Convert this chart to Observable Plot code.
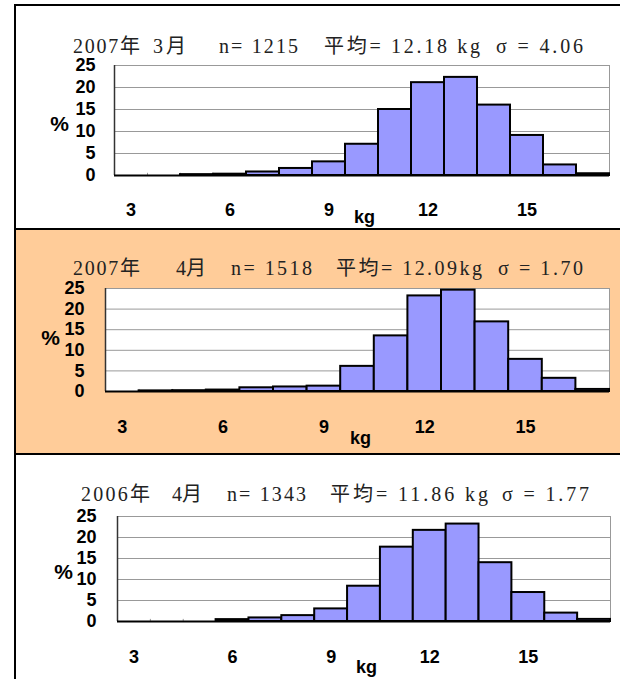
<!DOCTYPE html>
<html><head><meta charset="utf-8">
<script src="https://cdn.jsdelivr.net/npm/d3@7"></script>
<script src="https://cdn.jsdelivr.net/npm/@observablehq/plot@0.6"></script>
<style>
body{margin:0;background:#fff;}
#wrap{position:relative;width:620px;height:679px;overflow:hidden;background:#fff;}
.panel{position:absolute;left:14px;width:640px;border-left:2px solid #000;border-top:2px solid #000;box-sizing:border-box;}
.chart{position:absolute;left:0;}
</style></head><body><div id="wrap"></div>
<script>
// weight classes (kg), one bar per class
const bins = [3, 4, 5, 6, 7, 8, 9, 10, 11, 12, 13, 14, 15, 16, 17];
// percentage of animals in each class
const mar2007 = [0, 0, 0.2, 0.3, 0.8, 1.6, 3.1, 7.1, 15.0, 21.1, 22.3, 16.0, 9.1, 2.4, 0.4];
const apr2007 = [0, 0.15, 0.2, 0.35, 0.9, 1.1, 1.3, 6.1, 13.5, 23.2, 24.6, 16.9, 7.8, 3.2, 0.5];
const apr2006 = [0, 0, 0, 0.45, 0.85, 1.4, 3.0, 8.4, 17.7, 21.7, 23.2, 14.0, 6.9, 2.0, 0.5];
// title of each panel, in its parts
const titles1 = ["2007年", "3月", "n= 1215", "平均= 12.18 kg", "σ = 4.06"];
const titles2 = ["2007年", "4月", "n= 1518", "平均= 12.09kg", "σ = 1.70"];
const titles3 = ["2006年", "4月", "n= 1343", "平均= 11.86 kg", "σ = 1.77"];
const xTicks = [3, 6, 9, 12, 15];
const yTicks = [0, 5, 10, 15, 20, 25];
const gridTicks = [5, 10, 15, 20];
const xLabel = "kg";
const yLabel = "%";

const wrap = document.getElementById("wrap");

const panels = [
  {top: 4, height: 224, bg: "#fff"},
  {top: 228, height: 225, bg: "#FFCC99"},
  {top: 453, height: 240, bg: "#fff"}
];
panels.forEach(p => {
  const d = document.createElement("div");
  d.className = "panel";
  d.style.top = p.top + "px";
  d.style.height = p.height + "px";
  d.style.background = p.bg;
  wrap.appendChild(d);
});

const layouts = [
  {series: mar2007, title: titles1, top: 0, height: 228, ml: 114, mr: 11, mt: 65, mb: 53, ypad: 19, xdy: 35, kgdx: 2.5, kgdy: 42, px: 59, py: 124, ty: 53,
   seg: [[73, 140], [153, 186], [219, 298], [324, 480], [496, 583]]},
  {series: apr2007, title: titles2, top: 228, height: 225, ml: 105, mr: 11, mt: 60, mb: 62, ypad: 21, xdy: 36, kgdx: 3, kgdy: 47, px: 50, py: 338, ty: 275,
   seg: [[73, 140], [176, 206], [231, 312], [336, 482], [498, 583]]},
  {series: apr2006, title: titles3, top: 453, height: 226, ml: 117, mr: 10, mt: 63, mb: 58, ypad: 21, xdy: 36, kgdx: 2.5, kgdy: 46, px: 63, py: 572, ty: 501,
   seg: [[81, 150], [172, 202], [227, 306], [330, 488], [502, 589]]}
];

layouts.forEach((L, i) => {
  const data = bins.map((b, j) => ({bin: b, v: L.series[j]}));
  const edges = bins.slice(1).map(b => b - 0.5);
  const svg = Plot.plot({
    width: 620,
    height: L.height,
    marginLeft: L.ml, marginRight: L.mr, marginTop: L.mt, marginBottom: L.mb,
    style: {background: "transparent", fontFamily: "'Liberation Sans', Arial, sans-serif", fontSize: "18px", fontWeight: "bold", color: "#000"},
    x: {domain: [2.5, 17.5], axis: null},
    y: {domain: [0, 25], axis: null},
    marks: [
      Plot.frame({fill: "#fff", stroke: "#999"}),
      Plot.ruleY(gridTicks, {stroke: "#999", strokeWidth: 1}),
      Plot.ruleX(edges, {y1: 0, y2: 0.5, stroke: "#999"}),
      Plot.ruleX([2.5], {stroke: "#333", strokeWidth: 1.5}),
      Plot.rectY(data, {x1: d => d.bin - 0.5, x2: d => d.bin + 0.5, y: "v", fill: "#9999FF", stroke: "#000", strokeWidth: 2}),
      Plot.ruleY([0], {stroke: "#000", strokeWidth: 2}),
      Plot.text(yTicks, {y: d => d, frameAnchor: "left", dx: -L.ypad, textAnchor: "end", lineAnchor: "middle"}),
      Plot.text(xTicks, {x: d => d, frameAnchor: "bottom", dy: L.xdy, lineAnchor: "middle"}),
      Plot.text([xLabel], {frameAnchor: "bottom", dx: L.kgdx, dy: L.kgdy, lineAnchor: "middle"}),
      Plot.text([yLabel], {frameAnchor: "top-left", dx: L.px - L.ml, dy: L.py - L.top - L.mt, lineAnchor: "middle", textAnchor: "middle", fontSize: 21})
    ]
  });
  svg.classList.add("chart");
  svg.style.top = L.top + "px";
  const g = d3.select(svg).append("g")
    .attr("text-anchor", "start")
    .style("font-family", "'Liberation Serif', 'DejaVu Serif', 'Noto Sans CJK JP', serif")
    .style("font-size", "20px").style("font-weight", "normal")
    .attr("fill", "#222");
  L.title.forEach((t, k) => {
    g.append("text")
      .attr("x", L.seg[k][0]).attr("y", L.ty - L.top)
      .attr("textLength", L.seg[k][1] - L.seg[k][0]).attr("lengthAdjust", "spacing")
      .style("white-space", "pre")
      .text(t);
  });
  wrap.appendChild(svg);
});
</script></body></html>
